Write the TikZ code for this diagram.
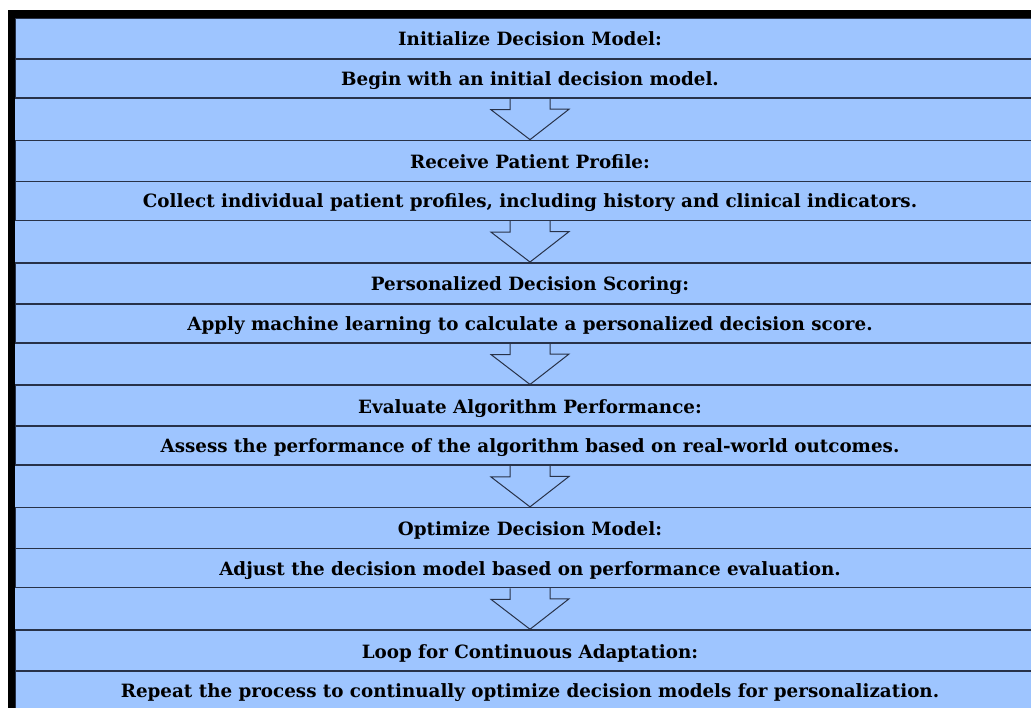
\documentclass[tikz,border=0pt]{standalone}
\usepackage{fontspec}
\setmainfont{DejaVu Serif}
\usetikzlibrary{calc}
\definecolor{panelblue}{RGB}{158,197,255}
\definecolor{rulenavy}{RGB}{40,50,72}
\tikzset{
  row/.style={draw=rulenavy, line width=1.5pt, fill=panelblue, minimum width=1030pt,
    inner sep=0pt, text height=18pt, text depth=4pt, font=\fontsize{18.3}{22}\selectfont\bfseries},
  headrow/.style={row, minimum height=42pt},
  textrow/.style={row, minimum height=39pt},
  hollowarrow/.style={draw=rulenavy, line width=1pt, line join=miter}
}
\begin{document}
\begin{tikzpicture}[x=1pt, y=-1pt]
\useasboundingbox[fill=white] (0,0) rectangle (1031,708);
\fill[panelblue] (15,18) rectangle (1031,708);
\node[headrow] (init) at (530,39) {Initialize Decision Model:};
\node[textrow] (initdesc) at (530,78.5) {Begin with an initial decision model.};
\node[headrow] (profile) at (530,161.4) {Receive Patient Profile:};
\node[textrow] (profiledesc) at (530,200.9) {Collect individual patient profiles, including history and clinical indicators.};
\node[headrow] (scoring) at (530,283.8) {Personalized Decision Scoring:};
\node[textrow] (scoringdesc) at (530,323.3) {Apply machine learning to calculate a personalized decision score.};
\node[headrow] (evaluate) at (530,406.2) {Evaluate Algorithm Performance:};
\node[textrow] (evaluatedesc) at (530,445.7) {Assess the performance of the algorithm based on real-world outcomes.};
\node[headrow] (optimize) at (530,528.6) {Optimize Decision Model:};
\node[textrow] (optimizedesc) at (530,568.1) {Adjust the decision model based on performance evaluation.};
\node[headrow] (loop) at (530,651) {Loop for Continuous Adaptation:};
\node[textrow] (loopdesc) at (530,690.5) {Repeat the process to continually optimize decision models for personalization.};
% hollow arrows between the steps
\draw[hollowarrow] ($(initdesc.south)+(-20,0)$) -- ++(0,11) -- ++(-19,0) -- (profile.north) -- ++(39,-30.4) -- ++(-19,0) -- ++(0,-11);
\draw[hollowarrow] ($(profiledesc.south)+(-20,0)$) -- ++(0,11) -- ++(-19,0) -- (scoring.north) -- ++(39,-30.4) -- ++(-19,0) -- ++(0,-11);
\draw[hollowarrow] ($(scoringdesc.south)+(-20,0)$) -- ++(0,11) -- ++(-19,0) -- (evaluate.north) -- ++(39,-30.4) -- ++(-19,0) -- ++(0,-11);
\draw[hollowarrow] ($(evaluatedesc.south)+(-20,0)$) -- ++(0,11) -- ++(-19,0) -- (optimize.north) -- ++(39,-30.4) -- ++(-19,0) -- ++(0,-11);
\draw[hollowarrow] ($(optimizedesc.south)+(-20,0)$) -- ++(0,11) -- ++(-19,0) -- (loop.north) -- ++(39,-30.4) -- ++(-19,0) -- ++(0,-11);
% black frame, top and left
\fill[black] (8,10) rectangle (1031,18);
\fill[black] (8,10) rectangle (15,708);
\end{tikzpicture}
\end{document}
